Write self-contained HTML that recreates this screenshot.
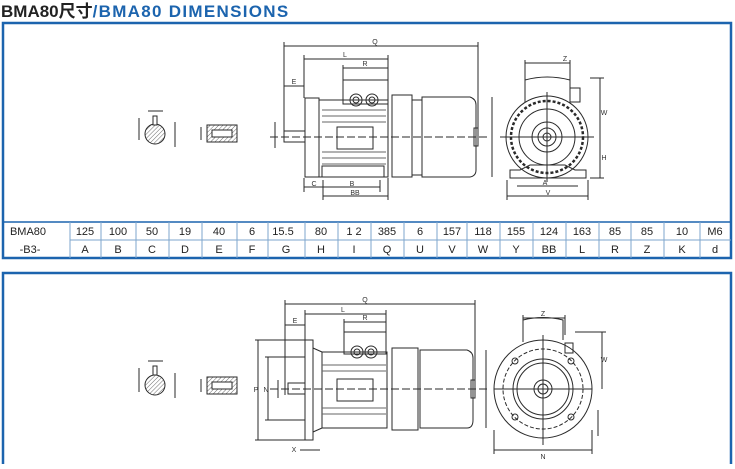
<!DOCTYPE html>
<html><head><meta charset="utf-8"><style>
body{margin:0;background:#fff;width:735px;height:464px;overflow:hidden;font-family:"Liberation Sans",Arial,sans-serif}
</style></head><body>
<svg width="735" height="464" xmlns="http://www.w3.org/2000/svg" font-family="Liberation Sans, Arial, sans-serif">
<text x="1" y="17" font-size="17" font-weight="bold" fill="#222" font-family="Liberation Sans, Noto Sans CJK SC, sans-serif">BMA80尺寸<tspan fill="#1c64ae" letter-spacing="1.3">/BMA80 DIMENSIONS</tspan></text>
<rect x="3" y="23" width="728" height="235" fill="none" stroke="#1c64ae" stroke-width="2.5"/>
<rect x="3" y="273" width="728" height="193" fill="none" stroke="#1c64ae" stroke-width="2.5"/>
<g stroke="#7ea6cc" stroke-width="1" fill="none">
<line x1="3" y1="222" x2="731" y2="222" stroke="#1c64ae" stroke-width="1.5"/>
<line x1="70" y1="240" x2="731" y2="240"/>
<line x1="70" y1="222" x2="70" y2="258"/><line x1="101" y1="222" x2="101" y2="258"/><line x1="136" y1="222" x2="136" y2="258"/><line x1="169" y1="222" x2="169" y2="258"/><line x1="202" y1="222" x2="202" y2="258"/><line x1="237" y1="222" x2="237" y2="258"/><line x1="268" y1="222" x2="268" y2="258"/><line x1="305" y1="222" x2="305" y2="258"/><line x1="338" y1="222" x2="338" y2="258"/><line x1="371" y1="222" x2="371" y2="258"/><line x1="404" y1="222" x2="404" y2="258"/><line x1="437" y1="222" x2="437" y2="258"/><line x1="467" y1="222" x2="467" y2="258"/><line x1="500" y1="222" x2="500" y2="258"/><line x1="533" y1="222" x2="533" y2="258"/><line x1="566" y1="222" x2="566" y2="258"/><line x1="599" y1="222" x2="599" y2="258"/><line x1="631" y1="222" x2="631" y2="258"/><line x1="664" y1="222" x2="664" y2="258"/><line x1="700" y1="222" x2="700" y2="258"/>
</g>
<g font-size="11" fill="#222" text-anchor="middle">
<text x="28" y="235">BMA80</text><text x="30" y="253">-B3-</text>
<text x="85" y="235">125</text><text x="118" y="235">100</text><text x="152" y="235">50</text><text x="185" y="235">19</text><text x="219" y="235">40</text><text x="252" y="235">6</text><text x="283" y="235">15.5</text><text x="321" y="235">80</text><text x="354" y="235">1 2</text><text x="387" y="235">385</text><text x="420" y="235">6</text><text x="452" y="235">157</text><text x="483" y="235">118</text><text x="516" y="235">155</text><text x="549" y="235">124</text><text x="582" y="235">163</text><text x="615" y="235">85</text><text x="647" y="235">85</text><text x="682" y="235">10</text><text x="715" y="235">M6</text>
<text x="85" y="253">A</text><text x="118" y="253">B</text><text x="152" y="253">C</text><text x="185" y="253">D</text><text x="219" y="253">E</text><text x="252" y="253">F</text><text x="286" y="253">G</text><text x="321" y="253">H</text><text x="354" y="253">I</text><text x="387" y="253">Q</text><text x="420" y="253">U</text><text x="452" y="253">V</text><text x="483" y="253">W</text><text x="516" y="253">Y</text><text x="549" y="253">BB</text><text x="582" y="253">L</text><text x="615" y="253">R</text><text x="647" y="253">Z</text><text x="682" y="253">K</text><text x="715" y="253">d</text>
</g>
<defs><pattern id="h" width="3" height="3" patternUnits="userSpaceOnUse" patternTransform="rotate(45)"><line x1="0" y1="0" x2="0" y2="3" stroke="#444" stroke-width="0.8"/></pattern></defs>
<g stroke="#2a2a2a" stroke-width="1" fill="none">
<line x1="284" y1="46" x2="478" y2="46"/><line x1="284" y1="42" x2="284" y2="140"/><line x1="478" y1="42" x2="478" y2="135"/>
<line x1="304" y1="59" x2="388" y2="59"/><line x1="304" y1="55" x2="304" y2="98"/><line x1="388" y1="55" x2="388" y2="80"/>
<line x1="343" y1="68" x2="388" y2="68"/><line x1="343" y1="65" x2="343" y2="80"/>
<line x1="284" y1="86" x2="304" y2="86"/>
<rect x="305" y="98" width="14" height="79"/><rect x="319" y="100" width="69" height="77"/>
<rect x="343" y="80" width="45" height="24"/><circle cx="356" cy="100" r="6"/><circle cx="356" cy="100" r="3"/><circle cx="372" cy="100" r="6"/><circle cx="372" cy="100" r="3"/>
<rect x="337" y="127" width="36" height="22"/>
<g stroke="#666"><line x1="322" y1="110" x2="386" y2="110"/><line x1="322" y1="116" x2="386" y2="116"/><line x1="322" y1="122" x2="386" y2="122"/><line x1="322" y1="152" x2="386" y2="152"/><line x1="322" y1="158" x2="386" y2="158"/><line x1="322" y1="164" x2="386" y2="164"/></g>
<rect x="322" y="166" width="62" height="11"/>
<rect x="392" y="95" width="20" height="82"/><rect x="412" y="100" width="10" height="75"/>
<path d="M422 97 H470 Q476 99 476 105 V170 Q476 176 470 177 H422 Z"/>
<rect x="474" y="128" width="4" height="18"/>
<rect x="284" y="131" width="21" height="11"/>
<line x1="270" y1="137" x2="490" y2="137" stroke-dasharray="8 3"/>
<line x1="492" y1="97" x2="492" y2="177"/>
<line x1="304" y1="187" x2="323" y2="187"/><line x1="323" y1="187" x2="380" y2="187"/><line x1="323" y1="180" x2="323" y2="200"/><line x1="380" y1="180" x2="380" y2="192"/>
<line x1="323" y1="196" x2="388" y2="196"/><line x1="304" y1="178" x2="304" y2="192"/><line x1="388" y1="178" x2="388" y2="200"/>
<circle cx="547" cy="137" r="41"/><circle cx="547" cy="137" r="36" stroke-dasharray="3 2" stroke-width="2.5"/><circle cx="547" cy="137" r="28"/><circle cx="547" cy="137" r="15"/><circle cx="547" cy="137" r="9"/><circle cx="547" cy="137" r="4"/>
<path d="M525 102 V80 Q547 74 570 80 V102"/><rect x="570" y="88" width="10" height="14"/>
<path d="M510 178 H586 V170 H575 L565 165 H530 L520 170 H510 Z"/>
<line x1="500" y1="137" x2="594" y2="137"/><line x1="547" y1="92" x2="547" y2="182"/>
<line x1="525" y1="63" x2="570" y2="63"/><line x1="525" y1="60" x2="525" y2="80"/><line x1="570" y1="60" x2="570" y2="80"/>
<line x1="600" y1="78" x2="600" y2="178"/><line x1="590" y1="78" x2="604" y2="78"/><line x1="590" y1="178" x2="604" y2="178"/>
<line x1="517" y1="186" x2="578" y2="186"/><line x1="507" y1="196" x2="588" y2="196"/><line x1="507" y1="180" x2="507" y2="200"/><line x1="588" y1="180" x2="588" y2="200"/>
<circle cx="155" cy="134" r="10" fill="url(#h)"/><rect x="153" y="116" width="4" height="9" fill="#fff"/><line x1="148" y1="111" x2="163" y2="111"/>
<line x1="139" y1="118" x2="139" y2="140"/><line x1="175" y1="122" x2="175" y2="147"/>
<rect x="207" y="125" width="30" height="17" fill="url(#h)"/><path d="M212 130 H232 V137 H212 Z" fill="#fff"/>
<line x1="201" y1="127" x2="201" y2="140"/>
<line x1="275" y1="122" x2="275" y2="148"/>
</g>
<g font-size="7" fill="#333" text-anchor="middle">
<text x="375" y="44">Q</text><text x="345" y="57">L</text><text x="365" y="66">R</text><text x="294" y="84">E</text><text x="565" y="61">Z</text><text x="545" y="185">A</text><text x="548" y="195">V</text><text x="352" y="186">B</text><text x="355" y="195">BB</text><text x="314" y="186">C</text><text x="604" y="115">W</text><text x="604" y="160">H</text>
</g>
<g stroke="#2a2a2a" stroke-width="1" fill="none">
<line x1="285" y1="304" x2="475" y2="304"/><line x1="285" y1="300" x2="285" y2="395"/><line x1="475" y1="300" x2="475" y2="385"/>
<line x1="305" y1="314" x2="386" y2="314"/><line x1="305" y1="310" x2="305" y2="340"/><line x1="386" y1="310" x2="386" y2="332"/>
<line x1="344" y1="322" x2="386" y2="322"/><line x1="344" y1="319" x2="344" y2="332"/>
<line x1="285" y1="325" x2="305" y2="325"/>
<rect x="305" y="340" width="8" height="100"/><path d="M313 348 L322 352 V428 L313 432"/>
<rect x="322" y="352" width="65" height="76"/><rect x="344" y="332" width="42" height="22"/>
<circle cx="357" cy="352" r="6"/><circle cx="357" cy="352" r="3"/><circle cx="371" cy="352" r="6"/><circle cx="371" cy="352" r="3"/>
<rect x="337" y="379" width="36" height="22"/>
<g stroke="#666"><line x1="322" y1="365" x2="386" y2="365"/><line x1="322" y1="371" x2="386" y2="371"/><line x1="322" y1="408" x2="386" y2="408"/><line x1="322" y1="414" x2="386" y2="414"/></g>
<rect x="392" y="348" width="26" height="82"/><path d="M420 350 H467 Q473 352 473 358 V420 Q473 428 467 428 H420 Z"/>
<rect x="471" y="380" width="4" height="18"/><rect x="288" y="383" width="17" height="11"/>
<line x1="270" y1="389" x2="490" y2="389" stroke-dasharray="8 3"/>
<line x1="486" y1="350" x2="486" y2="428"/>
<line x1="258" y1="340" x2="258" y2="440"/><line x1="255" y1="340" x2="305" y2="340"/><line x1="255" y1="440" x2="305" y2="440"/>
<line x1="268" y1="357" x2="268" y2="420"/><line x1="265" y1="357" x2="305" y2="357"/><line x1="265" y1="420" x2="305" y2="420"/>
<line x1="278" y1="380" x2="278" y2="398"/>
<line x1="300" y1="450" x2="320" y2="450"/>
<circle cx="543" cy="389" r="49"/><circle cx="543" cy="389" r="40" stroke-dasharray="4 2"/><circle cx="543" cy="389" r="30"/><circle cx="543" cy="389" r="26"/><circle cx="543" cy="389" r="9"/><circle cx="543" cy="389" r="5"/>
<path d="M523 342 V320 Q543 315 563 320 V340"/><rect x="565" y="343" width="8" height="10"/>
<circle cx="515" cy="361" r="3"/><circle cx="571" cy="361" r="3"/><circle cx="515" cy="417" r="3"/><circle cx="571" cy="417" r="3"/>
<line x1="494" y1="389" x2="592" y2="389"/><line x1="543" y1="335" x2="543" y2="445"/>
<line x1="523" y1="318" x2="565" y2="318"/><line x1="523" y1="315" x2="523" y2="335"/><line x1="565" y1="315" x2="565" y2="335"/>
<line x1="602" y1="332" x2="602" y2="389"/><line x1="575" y1="332" x2="606" y2="332"/>
<line x1="494" y1="450" x2="592" y2="450"/><line x1="494" y1="430" x2="494" y2="454"/><line x1="592" y1="430" x2="592" y2="454"/>
<line x1="598" y1="410" x2="598" y2="436"/>
<circle cx="155" cy="385" r="10" fill="url(#h)"/><rect x="153" y="366" width="4" height="9" fill="#fff"/><line x1="148" y1="361" x2="163" y2="361"/>
<line x1="139" y1="368" x2="139" y2="392"/><line x1="175" y1="373" x2="175" y2="398"/>
<rect x="207" y="377" width="30" height="17" fill="url(#h)"/><path d="M212 382 H232 V389 H212 Z" fill="#fff"/><line x1="201" y1="379" x2="201" y2="392"/>
</g>
<g font-size="7" fill="#333" text-anchor="middle">
<text x="365" y="302">Q</text><text x="343" y="312">L</text><text x="365" y="320">R</text><text x="295" y="323">E</text><text x="543" y="316">Z</text><text x="543" y="459">N</text><text x="256" y="392">P</text><text x="266" y="392">N</text><text x="604" y="362">W</text><text x="294" y="452">X</text>
</g>
</svg>
</body></html>
